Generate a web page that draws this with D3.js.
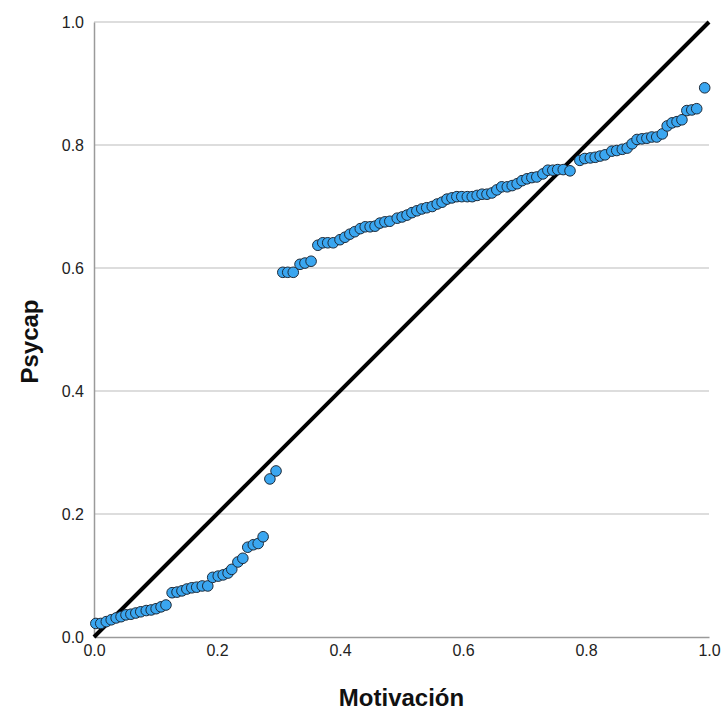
<!DOCTYPE html>
<html>
<head>
<meta charset="utf-8">
<script src="https://cdn.jsdelivr.net/npm/d3@7"></script>
<style>
  body { margin: 0; background: #fff; }
  svg { display: block; font-family: "Liberation Sans", Arial, sans-serif; }
</style>
</head>
<body>
<svg class="chart" width="725" height="713"></svg>
<script>
// observed cumulative proportions (P-P plot)
var motivacion = [
	.003,.011,.020,.028,.036,.044,.052,.060,.068,.076,.085,.093,.101,.109,.117,
	.127,.135,.143,.151,.159,.167,.176,.185,
	.193,.202,.210,.218,.224,.234,.242,.250,.259,.267,.275,
	.286,.296,
	.307,.315,.324,.335,.343,.353,
	.364,.372,.380,.389,
	.400,.408,.416,.424,.433,.441,.449,.457,.465,.473,.481,
	.493,.501,.509,.517,.525,.533,.541,.550,.558,.566,
	.574,.582,.590,.598,.607,.615,.623,.631,.639,.647,
	.655,.663,.672,.680,.688,.696,.704,.712,
	.720,.730,.738,.746,.754,.763,.774,
	.790,.798,.807,.815,.823,.831,
	.842,.850,.859,.867,.875,.883,.891,.899,.907,.915,.924,
	.932,.940,.948,.956,.964,.972,.980,.993
];
var psycap = [
	.022,.022,.025,.028,.031,.033,.036,.037,.039,.041,.043,.044,.046,.049,.052,
	.072,.073,.075,.078,.080,.081,.083,.083,
	.097,.099,.101,.104,.110,.122,.128,.146,.150,.152,.163,
	.257,.270,
	.593,.593,.593,.606,.608,.611,
	.637,.641,.641,.641,
	.646,.650,.655,.659,.664,.667,.667,.668,.673,.675,.676,
	.681,.683,.686,.690,.693,.696,.698,.700,.704,.707,
	.712,.714,.716,.716,.716,.716,.718,.720,.720,.722,
	.727,.732,.732,.734,.737,.742,.745,.747,
	.748,.753,.759,.759,.760,.760,.758,
	.775,.778,.779,.780,.782,.784,
	.790,.791,.793,.795,.802,.809,.810,.811,.813,.813,.818,
	.831,.836,.838,.841,.856,.857,.859,.893
];
var ticks = [0, 0.2, 0.4, 0.6, 0.8, 1.0];

var margin = {top: 22, right: 16, bottom: 76, left: 94};
var width = 725 - margin.left - margin.right,
	height = 713 - margin.top - margin.bottom;

var x = d3.scaleLinear().domain([0, 1]).range([0, width]);
var y = d3.scaleLinear().domain([0, 1]).range([height, 0]);

var svg = d3.select('.chart');
var chart = svg.append('g')
	.attr('transform', 'translate(' + margin.left + ',' + margin.top + ')');

// horizontal grid
chart.append('g')
	.selectAll('line')
	.data(ticks.slice(1))
	.enter()
	.append('line')
	.attr('x1', 0).attr('x2', width)
	.attr('y1', function(d){ return y(d) })
	.attr('y2', function(d){ return y(d) })
	.style('stroke', '#d2d2d2')
	.style('stroke-width', 1.5);

var xAxis = d3.axisBottom(x).tickValues(ticks).tickFormat(d3.format('.1f')).tickSize(0).tickPadding(8);
var yAxis = d3.axisLeft(y).tickValues(ticks).tickFormat(d3.format('.1f')).tickSize(0).tickPadding(10);

chart.append('g')
	.attr('class', 'x axis')
	.attr('transform', 'translate(0,' + height + ')')
	.call(xAxis);
chart.append('g')
	.attr('class', 'y axis')
	.call(yAxis);

chart.selectAll('.axis path').style('stroke', '#9a9a9a').style('stroke-width', 1.5);
chart.selectAll('.axis text').style('font-size', '16px').style('fill', '#222');

// reference line
chart.append('line')
	.attr('x1', x(0)).attr('y1', y(0))
	.attr('x2', x(1)).attr('y2', y(1))
	.style('stroke', '#000')
	.style('stroke-width', 4);

var pts = motivacion.map(function(v, i){ return {x: v, y: psycap[i]} });
chart.selectAll('.dot')
	.data(pts)
	.enter()
	.append('circle')
	.attr('class', 'dot')
	.attr('cx', function(d){ return x(d.x) })
	.attr('cy', function(d){ return y(d.y) })
	.attr('r', 5.3)
	.style('fill', '#3aa6f0')
	.style('stroke', '#1d2b3a')
	.style('stroke-width', 1);

svg.append('text')
	.attr('x', margin.left + width / 2)
	.attr('y', 706)
	.attr('text-anchor', 'middle')
	.style('font-size', '24px')
	.style('font-weight', 'bold')
	.style('fill', '#111')
	.text('Motivación');

svg.append('text')
	.attr('transform', 'translate(38,' + (margin.top + height / 2 + 12) + ') rotate(-90)')
	.attr('text-anchor', 'middle')
	.style('font-size', '24px')
	.style('font-weight', 'bold')
	.style('fill', '#111')
	.text('Psycap');
</script>
</body>
</html>
